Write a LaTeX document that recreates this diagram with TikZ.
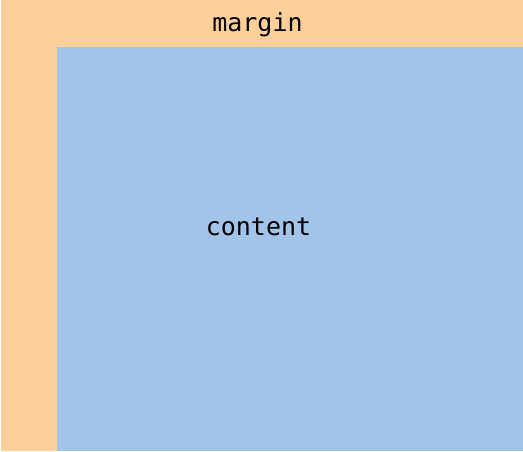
\documentclass[tikz,border=0pt]{standalone}
\usepackage{fontspec}
\setmonofont{DejaVu Sans Mono}
\definecolor{marginc}{RGB}{253,207,155}
\definecolor{contentc}{RGB}{162,196,233}
\tikzset{lbl/.style={font=\ttfamily\fontsize{25}{29}\selectfont, text=black, inner sep=0pt, anchor=base}}
\begin{document}
\begin{tikzpicture}[x=1pt,y=-1pt]
\useasboundingbox (0,0) rectangle (523,452);
\fill[white] (0,0) rectangle (523,452);
\fill[marginc] (1,0) rectangle (523,451);
\fill[contentc] (57,47) rectangle (523,451);
\node[lbl] (margin) at (257.5,31.5) {margin};
\node[lbl] (content) at (258.5,235.5) {content};
\end{tikzpicture}
\end{document}
